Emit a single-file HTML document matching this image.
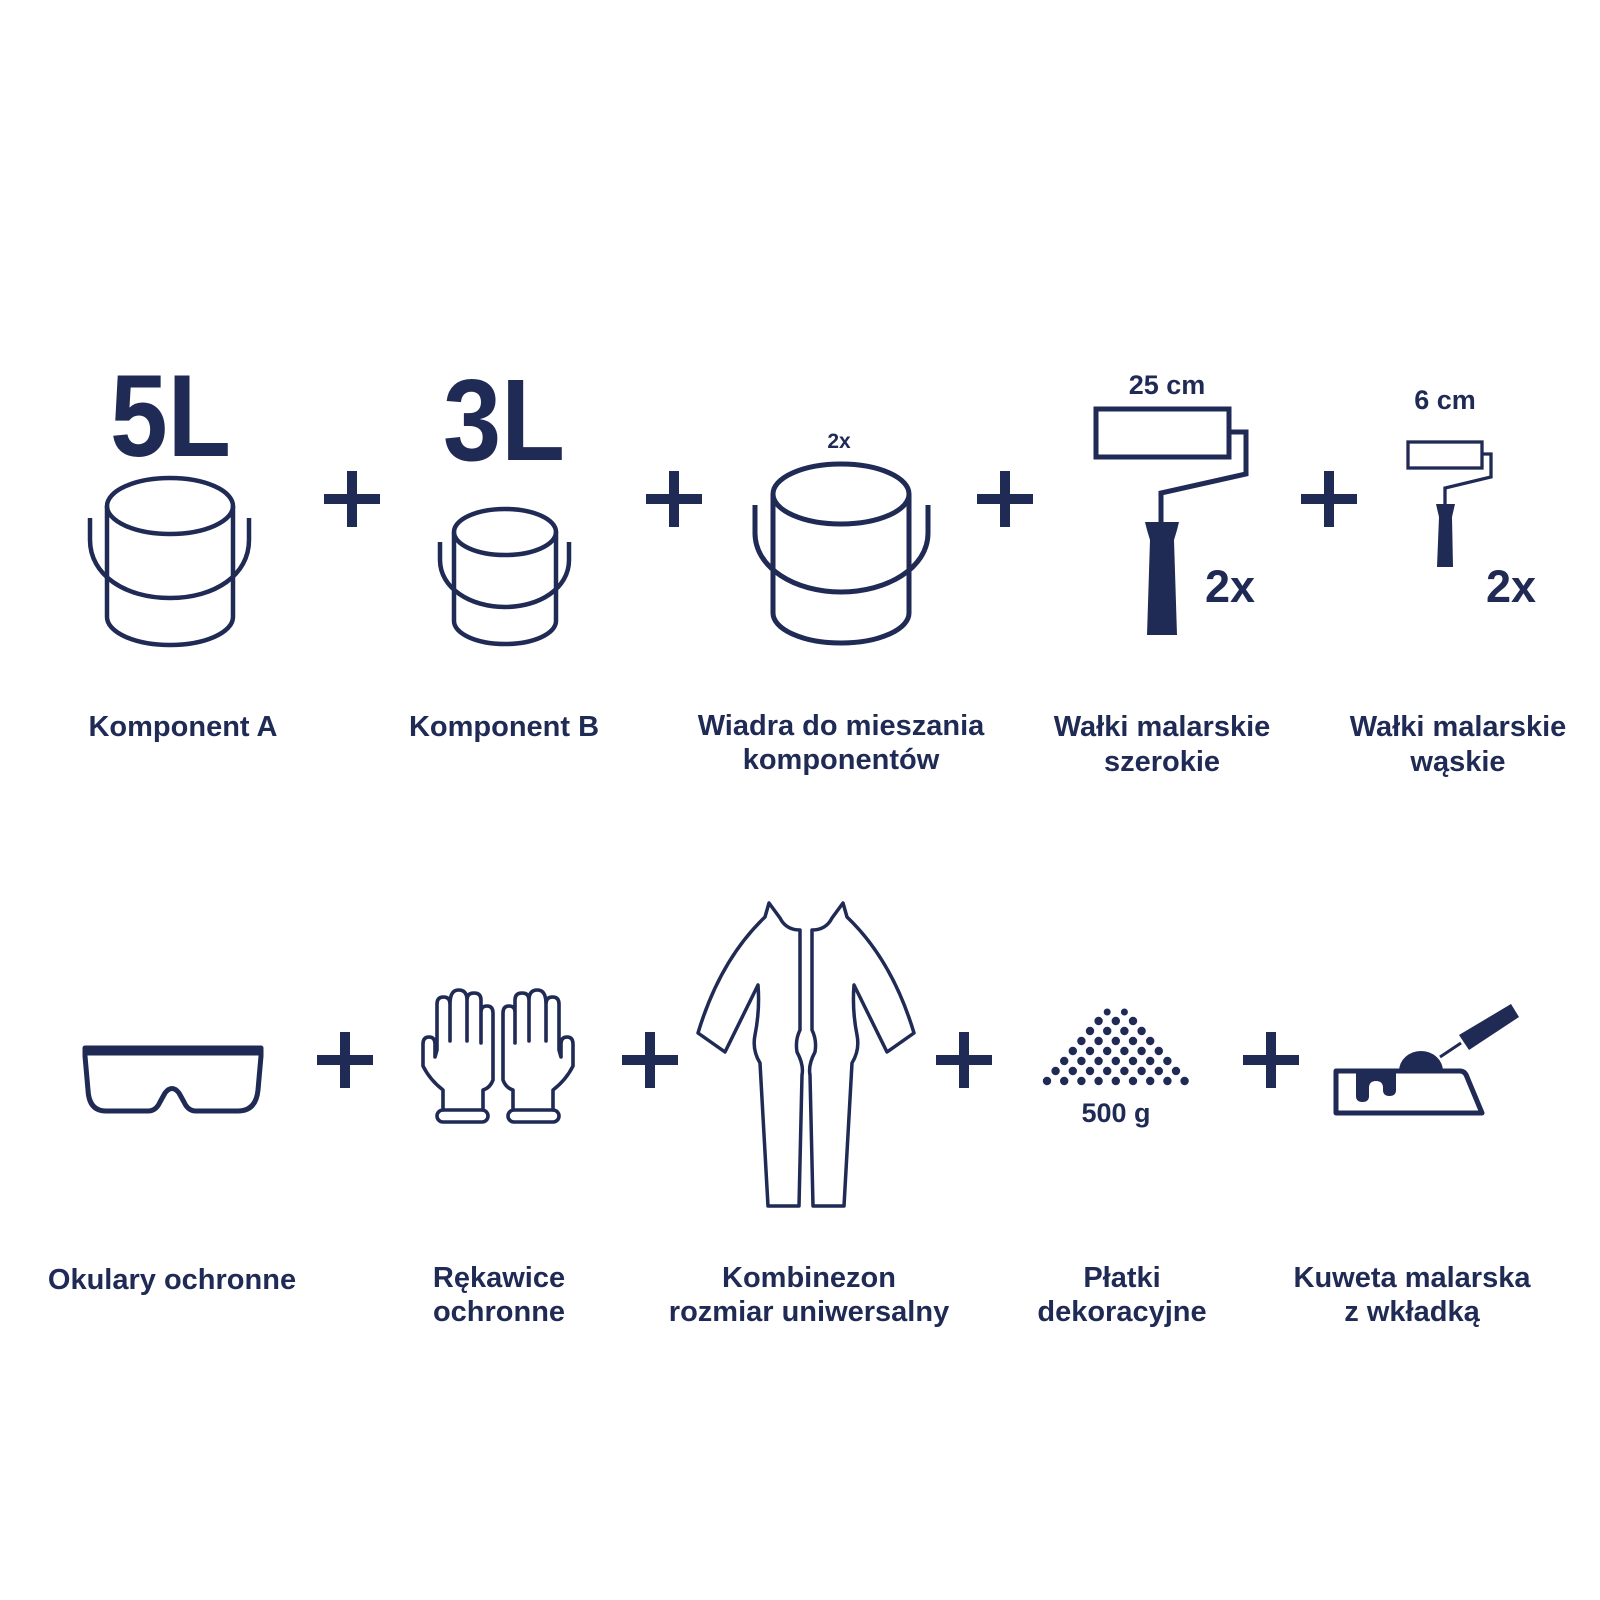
<!DOCTYPE html>
<html><head><meta charset="utf-8"><style>
html,body{margin:0;padding:0;background:#fff}
svg{display:block}
text{font-family:"Liberation Sans",sans-serif;font-weight:bold;fill:#1f2a55}
</style></head><body>
<svg width="1600" height="1600" viewBox="0 0 1600 1600" xmlns="http://www.w3.org/2000/svg">
<rect width="1600" height="1600" fill="#fff"/>
<g fill="none" stroke="#1f2a55" stroke-width="4.5">
  <!-- Bucket A -->
  <ellipse cx="170" cy="506" rx="63" ry="28"/>
  <path d="M107 506 V617 A63 28 0 0 0 233 617 V506"/>
  <path d="M90 518 V540 C90 575 125 598 170 598 C215 598 249 575 249 540 V518"/>
  <!-- Bucket B -->
  <ellipse cx="505" cy="532" rx="51" ry="23"/>
  <path d="M454 532 V621 A51 23 0 0 0 556 621 V532"/>
  <path d="M440 542 V560 C440 588 470 607 505 607 C540 607 569 588 569 560 V542"/>
  <!-- Bucket C -->
  <ellipse cx="841" cy="494" rx="68" ry="30" stroke-width="5"/>
  <path d="M773 494 V613 A68 30 0 0 0 909 613 V494" stroke-width="5"/>
  <path d="M755 505 V533 C755 568 795 592 841 592 C887 592 928 568 928 533 V505" stroke-width="5"/>
  <!-- big roller -->
  <rect x="1096" y="409" width="133" height="48" stroke-width="5"/>
  <polyline points="1231,432 1246,432 1246,474 1161,493 1161,522" stroke-width="5"/>
  <!-- small roller -->
  <rect x="1408" y="442" width="74" height="26" stroke-width="3.3"/>
  <polyline points="1483,454 1491,454 1491,477 1445,488 1445,505" stroke-width="3.3"/>
  <!-- goggles -->
  <path d="M85 1048 H261 V1056 L258 1090 Q256 1111 238 1111 H196 Q188 1111 184 1102 L179 1093 Q172 1084 165 1093 L160 1102 Q156 1111 148 1111 H106 Q89 1111 88 1090 L85 1056 Z" stroke-width="5" stroke-linejoin="round"/>
  <path d="M85 1053 H261" stroke-width="5"/>
  <!-- gloves -->
  <g stroke-width="3.6" stroke-linejoin="round" stroke-linecap="round">
    <g id="glove">
      <path d="M443 1110 V1090 Q430 1080 423 1066 V1044 Q423 1037 429 1037 Q435 1037 435 1044 V1057 L437 1050 V1004 Q437 997 443.5 997 Q450 997 450 1004 V1041 M450 1004 Q450 990 458.5 990 Q467 990 467 1000 V1041 M467 1000 Q467 993 474 993 Q481 993 481 1000 V1043 M481 1012 Q481 1006 487 1006 Q493 1006 493 1013 V1080 Q490 1088 483 1090 V1110"/>
      <rect x="437" y="1110" width="51" height="12" rx="6"/>
    </g>
    <use href="#glove" transform="translate(996,0) scale(-1,1)"/>
  </g>
  <!-- overalls -->
  <g stroke-width="3.5" stroke-linejoin="round">
    <path id="suit" d="M769 903 L765 917 Q720 960 698 1033 L725 1052 L758 985 Q760 1010 755 1035 Q752 1050 760 1063 L768 1206 L799 1206 L802 1075 Q804 1065 797 1052 Q795 1040 800 1030 L800 930 Q786 930 780 918 Z"/>
    <use href="#suit" transform="translate(1612,0) scale(-1,1)"/>
  </g>
  <!-- tray -->
  <path d="M1336 1071 H1460 Q1465 1071 1467 1077 L1482 1113 H1336 Z" stroke-width="5" stroke-linejoin="round"/>
  <line x1="1440" y1="1057" x2="1461" y2="1043" stroke-width="3"/>
</g>
<g fill="#1f2a55">
  <!-- pluses -->
  <g id="p1"><rect x="324" y="494" width="56" height="10"/><rect x="347" y="471" width="10" height="56"/></g>
  <use href="#p1" x="322"/><use href="#p1" x="653"/><use href="#p1" x="977"/>
  <use href="#p1" x="-7" y="561"/><use href="#p1" x="298" y="561"/><use href="#p1" x="612" y="561"/><use href="#p1" x="919" y="561"/>
  <!-- handles -->
  <polygon points="1145,522 1179,522 1177,530 1174,540 1177,635 1147,635 1150,540 1147,530"/>
  <polygon points="1436,504 1455,504 1452,517 1453,567 1437,567 1439,517"/>
  <!-- tray fill parts -->
  <path d="M1399 1071 A22 20 0 0 1 1443 1071 Z"/>
  <polygon points="1459,1035 1511,1004 1519,1017 1469,1050"/>
  <path d="M1356 1073 H1396 V1090 Q1396 1096 1389.5 1096 Q1383 1096 1383 1090 V1088 Q1383 1081 1376 1081 Q1369 1081 1369 1088 V1096 Q1369 1102 1362.5 1102 Q1356 1102 1356 1096 Z"/>
  <!-- flakes -->
  <g id="dots">
    <circle cx="1047" cy="1081" r="4.2"/><circle cx="1064.2" cy="1081" r="4.2"/><circle cx="1081.4" cy="1081" r="4.2"/><circle cx="1098.6" cy="1081" r="4.2"/><circle cx="1115.8" cy="1081" r="4.2"/><circle cx="1133" cy="1081" r="4.2"/><circle cx="1150.2" cy="1081" r="4.2"/><circle cx="1167.4" cy="1081" r="4.2"/><circle cx="1184.6" cy="1081" r="4.2"/>
    <circle cx="1055.6" cy="1071" r="4.2"/><circle cx="1072.8" cy="1071" r="4.2"/><circle cx="1090" cy="1071" r="4.2"/><circle cx="1107.2" cy="1071" r="4.2"/><circle cx="1124.4" cy="1071" r="4.2"/><circle cx="1141.6" cy="1071" r="4.2"/><circle cx="1158.8" cy="1071" r="4.2"/><circle cx="1176" cy="1071" r="4.2"/>
    <circle cx="1064.2" cy="1061" r="4.2"/><circle cx="1081.4" cy="1061" r="4.2"/><circle cx="1098.6" cy="1061" r="4.2"/><circle cx="1115.8" cy="1061" r="4.2"/><circle cx="1133" cy="1061" r="4.2"/><circle cx="1150.2" cy="1061" r="4.2"/><circle cx="1167.4" cy="1061" r="4.2"/>
    <circle cx="1072.8" cy="1051" r="4.2"/><circle cx="1090" cy="1051" r="4.2"/><circle cx="1107.2" cy="1051" r="4.2"/><circle cx="1124.4" cy="1051" r="4.2"/><circle cx="1141.6" cy="1051" r="4.2"/><circle cx="1158.8" cy="1051" r="4.2"/>
    <circle cx="1081.4" cy="1041" r="4.2"/><circle cx="1098.6" cy="1041" r="4.2"/><circle cx="1115.8" cy="1041" r="4.2"/><circle cx="1133" cy="1041" r="4.2"/><circle cx="1150.2" cy="1041" r="4.2"/>
    <circle cx="1090" cy="1031" r="4.2"/><circle cx="1107.2" cy="1031" r="4.2"/><circle cx="1124.4" cy="1031" r="4.2"/><circle cx="1141.6" cy="1031" r="4.2"/>
    <circle cx="1098.6" cy="1021" r="4.2"/><circle cx="1115.8" cy="1021" r="4.2"/><circle cx="1133" cy="1021" r="4.2"/>
    <circle cx="1107.2" cy="1012" r="3.5"/><circle cx="1124.4" cy="1012" r="3.5"/>
  </g>
</g>
<!-- big texts -->
<text x="110" y="456" font-size="117" textLength="121" lengthAdjust="spacingAndGlyphs">5L</text>
<text x="443" y="460" font-size="116" textLength="122" lengthAdjust="spacingAndGlyphs">3L</text>
<text x="839" y="448" font-size="21" text-anchor="middle">2x</text>
<text x="1167" y="394" font-size="27" text-anchor="middle">25 cm</text>
<text x="1445" y="409" font-size="27" text-anchor="middle">6 cm</text>
<text x="1205" y="602" font-size="45">2x</text>
<text x="1486" y="602" font-size="45">2x</text>
<text x="1116" y="1122" font-size="27" text-anchor="middle">500 g</text>
<!-- labels -->
<g font-size="29" text-anchor="middle">
<text x="183" y="736">Komponent A</text>
<text x="504" y="736">Komponent B</text>
<text x="841" y="735">Wiadra do mieszania</text>
<text x="841" y="769">komponentów</text>
<text x="1162" y="736">Wałki malarskie</text>
<text x="1162" y="771">szerokie</text>
<text x="1458" y="736">Wałki malarskie</text>
<text x="1458" y="771">wąskie</text>
<text x="172" y="1289">Okulary ochronne</text>
<text x="499" y="1287">Rękawice</text>
<text x="499" y="1321">ochronne</text>
<text x="809" y="1287">Kombinezon</text>
<text x="809" y="1321">rozmiar uniwersalny</text>
<text x="1122" y="1287">Płatki</text>
<text x="1122" y="1321">dekoracyjne</text>
<text x="1412" y="1287">Kuweta malarska</text>
<text x="1412" y="1321">z wkładką</text>
</g>
</svg>
</body></html>
